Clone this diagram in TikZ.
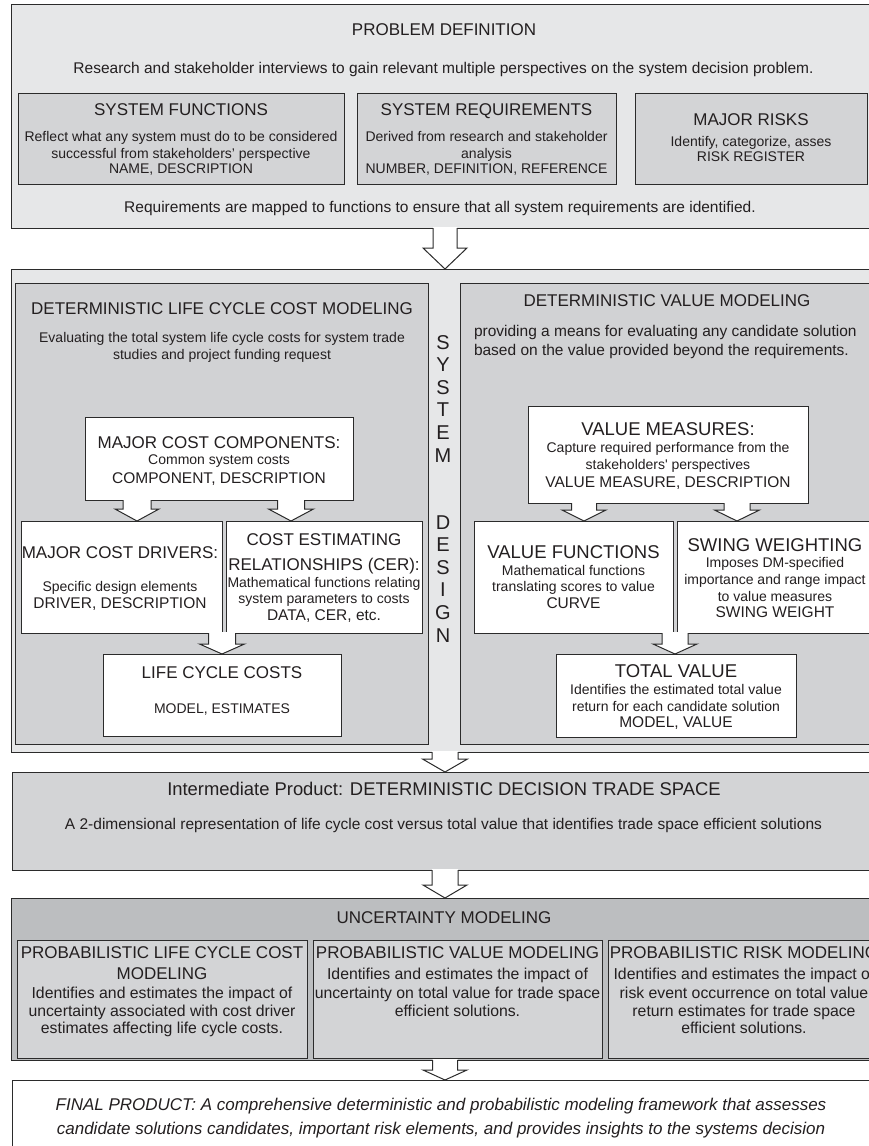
\documentclass[tikz,border=0pt]{standalone}
\usepackage{fontspec}
\setmainfont{Liberation Sans}
\usetikzlibrary{calc}

\definecolor{ink}{HTML}{231F20}
\definecolor{edge}{HTML}{2B2B2B}
\definecolor{panel}{HTML}{E6E7E8}
\definecolor{card}{HTML}{D3D4D6}
\definecolor{slab}{HTML}{D1D2D4}
\definecolor{deep}{HTML}{BCBEC0}

\newcommand\fs[1]{\fontsize{#1}{#1}\selectfont}

\tikzset{
  frame/.style={draw=edge, line width=1pt, anchor=north west, inner sep=0pt, outer sep=0pt},
  panelbox/.style={frame, fill=panel},
  cardbox/.style={frame, fill=card},
  slabbox/.style={frame, fill=slab},
  deepbox/.style={frame, fill=deep},
  whitebox/.style={frame, fill=white},
  txt/.style={anchor=base, inner sep=0pt, outer sep=0pt, text=ink},
  txtleft/.style={txt, anchor=base west},
  arrowline/.style={draw=edge, line width=1pt, line join=miter},
}

% one line of text, placed by its baseline
\newcommand\putline[5]{\node[txt, font=#2] (#1) at (#3,#4) {#5};}

% hollow block arrow from the bottom of node #1 to the top of node #2
% #3 centre x, #4 half shaft width, #5 half head width, #6 head length
\newcommand\hollowarrow[6]{%
  \fill[white] let \p1=(#1.south), \p2=(#2.north) in
    ({#3pt-#4pt},{\y1+0.8pt}) -- ({#3pt-#4pt},{\y2+#6pt}) -- ({#3pt-#5pt},{\y2+#6pt})
    -- ({#3pt},{\y2}) -- ({#3pt+#5pt},{\y2+#6pt}) -- ({#3pt+#4pt},{\y2+#6pt})
    -- ({#3pt+#4pt},{\y1+0.8pt}) -- cycle;
  \draw[arrowline] let \p1=(#1.south), \p2=(#2.north) in
    ({#3pt-#4pt},{\y1}) -- ({#3pt-#4pt},{\y2+#6pt}) -- ({#3pt-#5pt},{\y2+#6pt})
    -- ({#3pt},{\y2}) -- ({#3pt+#5pt},{\y2+#6pt}) -- ({#3pt+#4pt},{\y2+#6pt})
    -- ({#3pt+#4pt},{\y1});
}

\begin{document}
\begin{tikzpicture}[x=1pt,y=-1pt]
\clip (0,0) rectangle (869,1146);
\fill[white] (0,0) rectangle (869,1146);

% ---------- problem definition ----------
\node[panelbox, minimum width=866pt, minimum height=224pt] (pdef) at (11,4) {};
\node[cardbox, minimum width=326pt, minimum height=91pt] (sf) at (18,93) {};
\node[cardbox, minimum width=259pt, minimum height=91pt] (sr) at (357,93) {};
\node[cardbox, minimum width=232pt, minimum height=91pt] (mr) at (635,93) {};

% ---------- deterministic modeling ----------
\node[panelbox, minimum width=866pt, minimum height=483pt] (dsn) at (11,269) {};
\node[slabbox, minimum width=413pt, minimum height=461pt] (lcc) at (15,283) {};
\node[slabbox, minimum width=414pt, minimum height=461pt] (dvm) at (460,283) {};
\node[whitebox, minimum width=268pt, minimum height=83pt] (mcc) at (85,417) {};
\node[whitebox, minimum width=201pt, minimum height=112pt] (mcd) at (21,521) {};
\node[whitebox, minimum width=196pt, minimum height=112pt] (cer) at (226,521) {};
\node[whitebox, minimum width=238pt, minimum height=82pt] (lcct) at (103,654) {};
\node[whitebox, minimum width=280pt, minimum height=97pt] (vm) at (528,406) {};
\node[whitebox, minimum width=199pt, minimum height=112pt] (vf) at (474,521) {};
\node[whitebox, minimum width=196pt, minimum height=112pt] (sw) at (677,521) {};
\node[whitebox, minimum width=240pt, minimum height=83pt] (tv) at (556,654) {};

% ---------- trade space, uncertainty, final ----------
\node[cardbox, minimum width=866pt, minimum height=98pt] (itp) at (12,772) {};
\node[deepbox, minimum width=866pt, minimum height=162pt] (unc) at (11,898) {};
\node[cardbox, minimum width=290pt, minimum height=118pt] (plcc) at (17,940) {};
\node[cardbox, minimum width=289pt, minimum height=118pt] (pvm) at (313,940) {};
\node[cardbox, minimum width=272pt, minimum height=118pt] (prm) at (608,940) {};
\node[whitebox, minimum width=866pt, minimum height=90pt] (fin) at (12,1080) {};

% ---------- block arrows ----------
\hollowarrow{pdef}{dsn}{445}{12}{22}{21}
\hollowarrow{mcc}{mcd}{137}{14}{22}{12}
\hollowarrow{mcc}{cer}{291}{13.5}{22.5}{12}
\hollowarrow{mcd}{lcct}{222}{13.5}{22.5}{10}
\hollowarrow{vm}{vf}{584}{12.5}{22}{11}
\hollowarrow{vm}{sw}{737}{13}{22.5}{11}
\hollowarrow{vf}{tv}{675}{13}{22}{10}
\hollowarrow{dsn}{itp}{445}{13}{22.5}{13}
\hollowarrow{itp}{unc}{445}{13}{22}{13}
\hollowarrow{unc}{fin}{445}{12.5}{22}{10}

% ---------- texts: problem definition ----------
\putline{pdA}{\fs{17}}{444}{35}{PROBLEM DEFINITION}
\putline{pdB}{\fs{15.5}}{443.5}{73.5}{Research and stakeholder interviews to gain relevant multiple perspectives on the system decision problem.}
\putline{sfA}{\fs{17}}{181}{115}{SYSTEM FUNCTIONS}
\putline{sfB}{\fs{14}}{181}{141}{Reflect what any system must do to be considered}
\putline{sfC}{\fs{14}}{181}{158}{successful from stakeholders’ perspective}
\putline{sfD}{\fs{14}}{181}{173}{NAME, DESCRIPTION}
\putline{srA}{\fs{17}}{486.5}{115}{SYSTEM REQUIREMENTS}
\putline{srB}{\fs{14}}{486.5}{141}{Derived from research and stakeholder}
\putline{srC}{\fs{14}}{486.5}{158}{analysis}
\putline{srD}{\fs{14}}{486.5}{173}{NUMBER, DEFINITION, REFERENCE}
\putline{mrA}{\fs{17}}{751}{125}{MAJOR RISKS}
\putline{mrB}{\fs{14}}{751}{146}{Identify, categorize, asses}
\putline{mrC}{\fs{14}}{751}{161}{RISK REGISTER}
\putline{pdC}{\fs{15.5}}{440}{212.5}{Requirements are mapped to functions to ensure that all system requirements are identified.}

% ---------- texts: life cycle cost side ----------
\putline{lccA}{\fs{17}}{222}{314}{DETERMINISTIC LIFE CYCLE COST MODELING}
\putline{lccB}{\fs{14}}{222}{342}{Evaluating the total system life cycle costs for system trade}
\putline{lccC}{\fs{14}}{222}{359}{studies and project funding request}
\putline{mccA}{\fs{17}}{219}{448}{MAJOR COST COMPONENTS:}
\putline{mccB}{\fs{14}}{219}{464}{Common system costs}
\putline{mccC}{\fs{15.5}}{219}{483.5}{COMPONENT, DESCRIPTION}
\putline{mcdA}{\fs{17}}{120}{558}{MAJOR COST DRIVERS:}
\putline{mcdB}{\fs{14}}{120}{591}{Specific design elements}
\putline{mcdC}{\fs{15.5}}{120}{608.5}{DRIVER, DESCRIPTION}
\putline{cerA}{\fs{17}}{324}{545}{COST ESTIMATING}
\putline{cerB}{\fs{17}}{324}{570}{RELATIONSHIPS (CER):}
\putline{cerC}{\fs{14}}{324}{587}{Mathematical functions relating}
\putline{cerD}{\fs{14}}{324}{603}{system parameters to costs}
\putline{cerE}{\fs{15.5}}{324}{620.5}{DATA, CER, etc.}
\putline{lctA}{\fs{17}}{222}{678}{LIFE CYCLE COSTS}
\putline{lctB}{\fs{14}}{222}{713}{MODEL, ESTIMATES}

% ---------- texts: system design strip ----------
\putline{sd1}{\fs{20}}{443}{349}{S}
\putline{sd2}{\fs{20}}{443}{371.6}{Y}
\putline{sd3}{\fs{20}}{443}{394.2}{S}
\putline{sd4}{\fs{20}}{443}{416.8}{T}
\putline{sd5}{\fs{20}}{443}{439.4}{E}
\putline{sd6}{\fs{20}}{443}{462}{M}
\putline{sd7}{\fs{20}}{443}{529}{D}
\putline{sd8}{\fs{20}}{443}{551.6}{E}
\putline{sd9}{\fs{20}}{443}{574.2}{S}
\putline{sd10}{\fs{20}}{443}{596.8}{I}
\putline{sd11}{\fs{20}}{443}{619.4}{G}
\putline{sd12}{\fs{20}}{443}{642}{N}

% ---------- texts: value side ----------
\putline{dvmA}{\fs{17}}{667}{306}{DETERMINISTIC VALUE MODELING}
\node[txtleft, font=\fs{15.5}] (dvmB) at (474,336.5) {providing a means for evaluating any candidate solution};
\node[txtleft, font=\fs{15.5}] (dvmC) at (474,355.5) {based on the value provided beyond the requirements.};
\putline{vmA}{\fs{18.5}}{668}{435.6}{VALUE MEASURES:}
\putline{vmB}{\fs{14}}{668}{452}{Capture required performance from the}
\putline{vmC}{\fs{14}}{668}{469}{stakeholders\textquotesingle\ perspectives}
\putline{vmD}{\fs{15.5}}{668}{487.5}{VALUE MEASURE, DESCRIPTION}
\putline{vfA}{\fs{18.5}}{573.5}{558.6}{VALUE FUNCTIONS}
\putline{vfB}{\fs{14}}{573.5}{575}{Mathematical functions}
\putline{vfC}{\fs{14}}{573.5}{591}{translating scores to value}
\putline{vfD}{\fs{15.5}}{573.5}{608.5}{CURVE}
\putline{swA}{\fs{18.5}}{775}{551.6}{SWING WEIGHTING}
\putline{swB}{\fs{14}}{775}{567}{Imposes DM-specified}
\putline{swC}{\fs{14}}{775}{584}{importance and range impact}
\putline{swD}{\fs{14}}{775}{601}{to value measures}
\putline{swE}{\fs{15.5}}{775}{617.5}{SWING WEIGHT}
\putline{tvA}{\fs{18.5}}{676}{677.6}{TOTAL VALUE}
\putline{tvB}{\fs{14}}{676}{694}{Identifies the estimated total value}
\putline{tvC}{\fs{14}}{676}{711}{return for each candidate solution}
\putline{tvD}{\fs{15.5}}{676}{727.5}{MODEL, VALUE}

% ---------- texts: trade space ----------
\putline{itpA}{\fs{18.4}}{444}{795.6}{Intermediate Product: DETERMINISTIC DECISION TRADE SPACE}
\putline{itpB}{\fs{15.5}}{443.5}{829.5}{A 2-dimensional representation of life cycle cost versus total value that identifies trade space efficient solutions}

% ---------- texts: uncertainty ----------
\putline{uncA}{\fs{17}}{444}{923}{UNCERTAINTY MODELING}
\putline{plA}{\fs{17}}{162}{958}{PROBABILISTIC LIFE CYCLE COST}
\putline{plB}{\fs{17}}{162}{979}{MODELING}
\putline{plC}{\fs{15.8}}{162}{998}{Identifies and estimates the impact of}
\putline{plD}{\fs{15.8}}{162}{1016}{uncertainty associated with cost driver}
\putline{plE}{\fs{15.8}}{162}{1033}{estimates affecting life cycle costs.}
\putline{pvA}{\fs{17}}{457.5}{958}{PROBABILISTIC VALUE MODELING}
\putline{pvB}{\fs{15.8}}{457.5}{979}{Identifies and estimates the impact of}
\putline{pvC}{\fs{15.8}}{457.5}{998}{uncertainty on total value for trade space}
\putline{pvD}{\fs{15.8}}{457.5}{1016}{efficient solutions.}
\putline{prA}{\fs{17}}{744}{958}{PROBABILISTIC RISK MODELING}
\putline{prB}{\fs{15.8}}{744}{979}{Identifies and estimates the impact of}
\putline{prC}{\fs{15.8}}{744}{998}{risk event occurrence on total value}
\putline{prD}{\fs{15.8}}{744}{1016}{return estimates for trade space}
\putline{prE}{\fs{15.8}}{744}{1033}{efficient solutions.}

% ---------- texts: final product ----------
\putline{finA}{\fs{17}\itshape}{441}{1110}{FINAL PRODUCT: A comprehensive deterministic and probabilistic modeling framework that assesses}
\putline{finB}{\fs{17}\itshape}{441}{1134}{candidate solutions candidates, important risk elements, and provides insights to the systems decision}
\end{tikzpicture}
\end{document}
